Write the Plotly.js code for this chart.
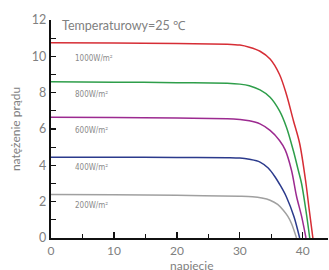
<!DOCTYPE html>
<html>
<head>
<meta charset="utf-8">
<script src="https://cdn.plot.ly/plotly-3.0.1.min.js"></script>
<style>html,body{margin:0;padding:0;background:#fff;}#chart{width:329px;height:270px;}</style>
</head>
<body>
<div id="chart"></div>
<script>
// Reference data
const seriesNames = ["1000W/m²", "800W/m²", "600W/m²", "400W/m²", "200W/m²"];
const seriesColors = ["#d62d35", "#2e9e4a", "#9c2a90", "#2b3a8c", "#a0a0a0"];

const x1000 = [0, 10, 20, 28, 30, 31.5, 33.2, 34.8, 36.3, 37.4, 38.5, 39.5, 40.5, 41, 41.6];
const y1000 = [10.75, 10.73, 10.7, 10.67, 10.62, 10.5, 10.28, 9.85, 9.0, 7.9, 6.47, 5.2, 3.0, 1.6, 0];

const x800 = [0, 10, 20, 28, 30, 31.5, 33.2, 34.8, 36.3, 37.4, 38.5, 39.3, 39.8, 40.5, 41.1];
const y800 = [8.6, 8.58, 8.55, 8.52, 8.47, 8.38, 8.15, 7.75, 7.0, 6.1, 4.8, 3.7, 3.0, 1.5, 0];

const x600 = [0, 10, 20, 28, 30, 31.5, 33.2, 34.8, 36.3, 37.2, 38.2, 39, 39.8, 40.5];
const y600 = [6.65, 6.63, 6.6, 6.57, 6.52, 6.45, 6.28, 5.92, 5.37, 4.85, 3.73, 2.3, 1.2, 0];

const x400 = [0, 10, 20, 28, 30, 31.5, 33.2, 34.5, 35.6, 36.5, 37.4, 38.6, 39.5];
const y400 = [4.45, 4.45, 4.43, 4.42, 4.4, 4.33, 4.18, 3.85, 3.36, 2.85, 2.26, 1.17, 0];

const x200 = [0, 10, 20, 30, 32, 33.5, 34.8, 36, 36.9, 37.6, 38.2, 39];
const y200 = [2.4, 2.38, 2.35, 2.3, 2.27, 2.2, 2.08, 1.85, 1.53, 1.2, 0.8, 0];

const labelX = [3.5, 3.5, 3.5, 3.5, 3.5];
const labelY = [9.9, 7.9, 5.9, 3.9, 1.8];

const xTitle = "napięcie";
const yTitle = "natężenie prądu";

const xs = [x1000, x800, x600, x400, x200];
const ys = [y1000, y800, y600, y400, y200];

const traces = xs.map((x, i) => ({
  x: x, y: ys[i], type: "scatter", mode: "lines", name: seriesNames[i],
  line: {color: seriesColors[i], width: 1.5, shape: "spline", smoothing: 0.9},
  hoverinfo: "skip"
}));

const annotations = seriesNames.map((t, i) => ({
  x: labelX[i], y: labelY[i], xref: "x", yref: "y", text: t, showarrow: false,
  xanchor: "left", yanchor: "middle",
  font: {family: "Liberation Sans Narrow, DejaVu Sans Condensed, sans-serif", size: 8, color: "#8a8a8a"}
}));
annotations.push({
  x: 0.51, y: -0.124, xref: "paper", yref: "paper", text: xTitle, showarrow: false,
  xanchor: "center", yanchor: "middle",
  font: {family: "Lato, sans-serif", size: 12, color: "#808080"}
});

const tickFont = {family: "Lato, sans-serif", size: 12, color: "#808080"};

const layout = {
  width: 329, height: 270,
  margin: {l: 51, r: 1, t: 20, b: 32, pad: 0},
  paper_bgcolor: "#fff", plot_bgcolor: "#fff",
  showlegend: false,
  title: {
    text: "Temperaturowy=25 ℃",
    xref: "paper", yref: "paper", x: 0.04, y: 0.975, xanchor: "left", yanchor: "middle",
    font: {family: "Lato, sans-serif", size: 12.5, color: "#808080"}
  },
  xaxis: {
    range: [0, 44], tickvals: [0, 10, 20, 30, 40], ticks: "inside", ticklen: 6, tickwidth: 1.2, tickcolor: "#111",
    minor: {tickvals: [5, 15, 25, 35], ticks: "inside", ticklen: 4, tickwidth: 1.2, tickcolor: "#111"},
    showline: true, linecolor: "#111", linewidth: 2.2, showgrid: false, zeroline: false,
    tickfont: tickFont
  },
  yaxis: {
    range: [0, 12], tickvals: [0, 2, 4, 6, 8, 10, 12], ticks: "inside", ticklen: 5, tickwidth: 1.2, tickcolor: "#111",
    minor: {tickvals: [1, 3, 5, 7, 9, 11], ticks: "inside", ticklen: 5, tickwidth: 1.2, tickcolor: "#111"},
    showline: true, linecolor: "#111", linewidth: 2.2, showgrid: false, zeroline: false,
    tickfont: {family: "Lato, sans-serif", size: 12.5, color: "#808080"},
    title: {text: yTitle, standoff: 9, font: {family: "Lato, sans-serif", size: 12, color: "#808080"}}
  },
  annotations: annotations
};

Plotly.newPlot("chart", traces, layout, {staticPlot: true, displayModeBar: false});
</script>
</body>
</html>
